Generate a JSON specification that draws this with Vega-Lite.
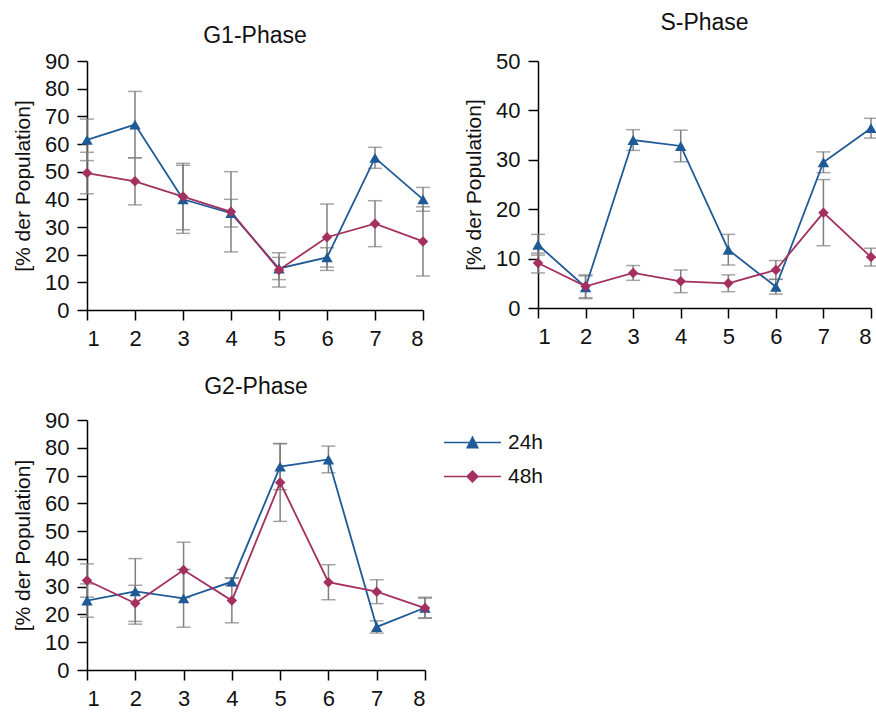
{
  "$schema": "https://vega.github.io/schema/vega-lite/v6.json",
  "padding": {"left": 12, "top": 12, "right": 0, "bottom": 0},
  "background": "white",
  "data": {"values": [
    {"phase": "G1", "series": "24h", "x": 1, "mean": 61.5, "err": 7.5},
    {"phase": "G1", "series": "24h", "x": 2, "mean": 67, "err": 12},
    {"phase": "G1", "series": "24h", "x": 3, "mean": 40, "err": 12.3},
    {"phase": "G1", "series": "24h", "x": 4, "mean": 35, "err": 5},
    {"phase": "G1", "series": "24h", "x": 5, "mean": 15, "err": 4},
    {"phase": "G1", "series": "24h", "x": 6, "mean": 19, "err": 3.5},
    {"phase": "G1", "series": "24h", "x": 7, "mean": 55, "err": 3.8},
    {"phase": "G1", "series": "24h", "x": 8, "mean": 40, "err": 4.3},
    {"phase": "G1", "series": "48h", "x": 1, "mean": 49.5, "err": 7.5},
    {"phase": "G1", "series": "48h", "x": 2, "mean": 46.5, "err": 8.5},
    {"phase": "G1", "series": "48h", "x": 3, "mean": 41, "err": 12},
    {"phase": "G1", "series": "48h", "x": 4, "mean": 35.5, "err": 14.5},
    {"phase": "G1", "series": "48h", "x": 5, "mean": 14.5, "err": 6.2},
    {"phase": "G1", "series": "48h", "x": 6, "mean": 26.3, "err": 12},
    {"phase": "G1", "series": "48h", "x": 7, "mean": 31.2, "err": 8.3},
    {"phase": "G1", "series": "48h", "x": 8, "mean": 24.8, "err": 12.5},
    {"phase": "S", "series": "24h", "x": 1, "mean": 12.8, "err": 2.1},
    {"phase": "S", "series": "24h", "x": 2, "mean": 4.2, "err": 2.3},
    {"phase": "S", "series": "24h", "x": 3, "mean": 34, "err": 2.1},
    {"phase": "S", "series": "24h", "x": 4, "mean": 32.8, "err": 3.2},
    {"phase": "S", "series": "24h", "x": 5, "mean": 11.8, "err": 3.1},
    {"phase": "S", "series": "24h", "x": 6, "mean": 4.3, "err": 1.5},
    {"phase": "S", "series": "24h", "x": 7, "mean": 29.5, "err": 2.1},
    {"phase": "S", "series": "24h", "x": 8, "mean": 36.4, "err": 2},
    {"phase": "S", "series": "48h", "x": 1, "mean": 9.1, "err": 2},
    {"phase": "S", "series": "48h", "x": 2, "mean": 4.4, "err": 2.3},
    {"phase": "S", "series": "48h", "x": 3, "mean": 7.1, "err": 1.5},
    {"phase": "S", "series": "48h", "x": 4, "mean": 5.4, "err": 2.3},
    {"phase": "S", "series": "48h", "x": 5, "mean": 5, "err": 1.7},
    {"phase": "S", "series": "48h", "x": 6, "mean": 7.7, "err": 1.9},
    {"phase": "S", "series": "48h", "x": 7, "mean": 19.3, "err": 6.7},
    {"phase": "S", "series": "48h", "x": 8, "mean": 10.3, "err": 1.8},
    {"phase": "G2", "series": "24h", "x": 1, "mean": 25, "err": 6},
    {"phase": "G2", "series": "24h", "x": 2, "mean": 28.3, "err": 11.8},
    {"phase": "G2", "series": "24h", "x": 3, "mean": 25.8, "err": 10.4},
    {"phase": "G2", "series": "24h", "x": 4, "mean": 31.8, "err": 1.4},
    {"phase": "G2", "series": "24h", "x": 5, "mean": 73.2, "err": 8.3},
    {"phase": "G2", "series": "24h", "x": 6, "mean": 75.8, "err": 4.8},
    {"phase": "G2", "series": "24h", "x": 7, "mean": 15.5, "err": 2.2},
    {"phase": "G2", "series": "24h", "x": 8, "mean": 22.4, "err": 3.8},
    {"phase": "G2", "series": "48h", "x": 1, "mean": 32.2, "err": 6},
    {"phase": "G2", "series": "48h", "x": 2, "mean": 24, "err": 6.5},
    {"phase": "G2", "series": "48h", "x": 3, "mean": 36, "err": 10},
    {"phase": "G2", "series": "48h", "x": 4, "mean": 25, "err": 8},
    {"phase": "G2", "series": "48h", "x": 5, "mean": 67.5, "err": 14},
    {"phase": "G2", "series": "48h", "x": 6, "mean": 31.6, "err": 6.3},
    {"phase": "G2", "series": "48h", "x": 7, "mean": 28.2, "err": 4.3},
    {"phase": "G2", "series": "48h", "x": 8, "mean": 22.3, "err": 3.5}
  ]},
  "resolve": {"scale": {"color": "independent", "shape": "independent"}},
  "spacing": 27,
  "vconcat": [
    {
      "spacing": 33,
      "hconcat": [
        {
          "title": {"text": "G1-Phase", "offset": 2},
          "width": 336, "height": 249,
          "transform": [{"filter": "datum.phase == 'G1'"}],
          "encoding": {
            "x": {"field": "x", "type": "quantitative", "scale": {"domain": [1, 8], "nice": false, "zero": false}, "axis": {"values": [1, 2, 3, 4, 5, 6, 7, 8], "format": "d", "title": null}},
            "y": {"field": "mean", "type": "quantitative", "scale": {"domain": [0, 90], "nice": false}, "axis": {"values": [0, 10, 20, 30, 40, 50, 60, 70, 80, 90], "title": "[% der Population]"}, "title": "[% der Population]"}
          },
          "layer": [
            {"mark": {"type": "errorbar", "ticks": {"size": 14, "thickness": 1.5}, "color": "#7f7f7f", "thickness": 1.5},
             "encoding": {"yError": {"field": "err"}, "detail": {"field": "series"}}},
            {"transform": [{"filter": "datum.series == '24h'"}], "mark": {"type": "line", "color": "#1f5a96", "strokeWidth": 1.8}, "encoding": {}},
            {"transform": [{"filter": "datum.series == '48h'"}], "mark": {"type": "line", "color": "#a3305f", "strokeWidth": 1.8}, "encoding": {}},
            {"transform": [{"filter": "datum.series == '24h'"}], "mark": {"type": "point", "shape": "triangle-up", "filled": true, "size": 130, "color": "#1f5a96", "opacity": 1}},
            {"transform": [{"filter": "datum.series == '48h'"}], "mark": {"type": "point", "shape": "diamond", "filled": true, "size": 110, "color": "#a3305f", "opacity": 1}}
          ]
        },
        {
          "title": {"text": "S-Phase", "offset": 15},
          "width": 333, "height": 247,
          "transform": [{"filter": "datum.phase == 'S'"}],
          "encoding": {
            "x": {"field": "x", "type": "quantitative", "scale": {"domain": [1, 8], "nice": false, "zero": false}, "axis": {"values": [1, 2, 3, 4, 5, 6, 7, 8], "format": "d", "title": null}},
            "y": {"field": "mean", "type": "quantitative", "scale": {"domain": [0, 50], "nice": false}, "axis": {"values": [0, 10, 20, 30, 40, 50], "title": "[% der Population]"}, "title": "[% der Population]"}
          },
          "layer": [
            {"mark": {"type": "errorbar", "ticks": {"size": 14, "thickness": 1.5}, "color": "#7f7f7f", "thickness": 1.5},
             "encoding": {"yError": {"field": "err"}, "detail": {"field": "series"}}},
            {"transform": [{"filter": "datum.series == '24h'"}], "mark": {"type": "line", "color": "#1f5a96", "strokeWidth": 1.8}, "encoding": {}},
            {"transform": [{"filter": "datum.series == '48h'"}], "mark": {"type": "line", "color": "#a3305f", "strokeWidth": 1.8}, "encoding": {}},
            {"transform": [{"filter": "datum.series == '24h'"}], "mark": {"type": "point", "shape": "triangle-up", "filled": true, "size": 130, "color": "#1f5a96", "opacity": 1}},
            {"transform": [{"filter": "datum.series == '48h'"}], "mark": {"type": "point", "shape": "diamond", "filled": true, "size": 110, "color": "#a3305f", "opacity": 1}}
          ]
        }
      ]
    },
    {
      "title": {"text": "G2-Phase", "offset": 10},
      "width": 338, "height": 250,
      "transform": [{"filter": "datum.phase == 'G2'"}],
      "encoding": {
        "x": {"field": "x", "type": "quantitative", "scale": {"domain": [1, 8], "nice": false, "zero": false}, "axis": {"values": [1, 2, 3, 4, 5, 6, 7, 8], "format": "d", "title": null}},
        "y": {"field": "mean", "type": "quantitative", "scale": {"domain": [0, 90], "nice": false}, "axis": {"values": [0, 10, 20, 30, 40, 50, 60, 70, 80, 90], "title": "[% der Population]"}, "title": "[% der Population]"}
      },
      "layer": [
        {"mark": {"type": "errorbar", "ticks": {"size": 14, "thickness": 1.5}, "color": "#7f7f7f", "thickness": 1.5},
         "encoding": {"yError": {"field": "err"}, "detail": {"field": "series"}}},
        {"transform": [{"filter": "datum.series == '24h'"}], "mark": {"type": "line", "color": "#1f5a96", "strokeWidth": 1.8}, "encoding": {}},
        {"transform": [{"filter": "datum.series == '48h'"}], "mark": {"type": "line", "color": "#a3305f", "strokeWidth": 1.8}, "encoding": {}},
        {"transform": [{"filter": "datum.series == '24h'"}], "mark": {"type": "point", "shape": "triangle-up", "filled": true, "size": 130, "color": "#1f5a96", "opacity": 1}},
        {"transform": [{"filter": "datum.series == '48h'"}], "mark": {"type": "point", "shape": "diamond", "filled": true, "size": 110, "color": "#a3305f", "opacity": 1}},
        {"transform": [{"filter": "false"}],
         "mark": {"type": "point", "filled": true, "opacity": 1},
         "encoding": {
           "color": {"field": "series", "type": "nominal", "scale": {"domain": ["24h", "48h"], "range": ["#1f5a96", "#a3305f"]},
                     "legend": {"title": null, "orient": "none", "legendX": 357, "legendY": 7, "labelFontSize": 21, "labelOffset": 7, "symbolSize": 3249, "symbolStrokeWidth": 0, "rowPadding": 3, "clipHeight": 31, "labelColor": "#111"}},
           "shape": {"field": "series", "type": "nominal", "scale": {"domain": ["24h", "48h"], "range": ["M-1,-0.026H1V0.026H-1Z M0,-0.245L0.23,0.21H-0.23Z", "M-1,-0.026H1V0.026H-1Z M0,-0.23L0.23,0L0,0.23L-0.23,0Z"]}}
         }}
      ]
    }
  ],
  "config": {
    "view": {"stroke": null},
    "font": "Liberation Sans",
    "axis": {"domainColor": "#000", "tickColor": "#000", "labelColor": "#111", "titleColor": "#111", "grid": false, "tickSize": 10, "labelPadding": 8, "titleFontWeight": "normal", "domainWidth": 1.5, "tickWidth": 1.5},
    "axisX": {"labelFontSize": 22},
    "axisY": {"labelFontSize": 22, "titleFontSize": 21, "titlePadding": 11},
    "title": {"fontSize": 23, "fontWeight": "normal", "color": "#111"},
    "legend": {"labelFont": "Liberation Sans"}
  }
}
